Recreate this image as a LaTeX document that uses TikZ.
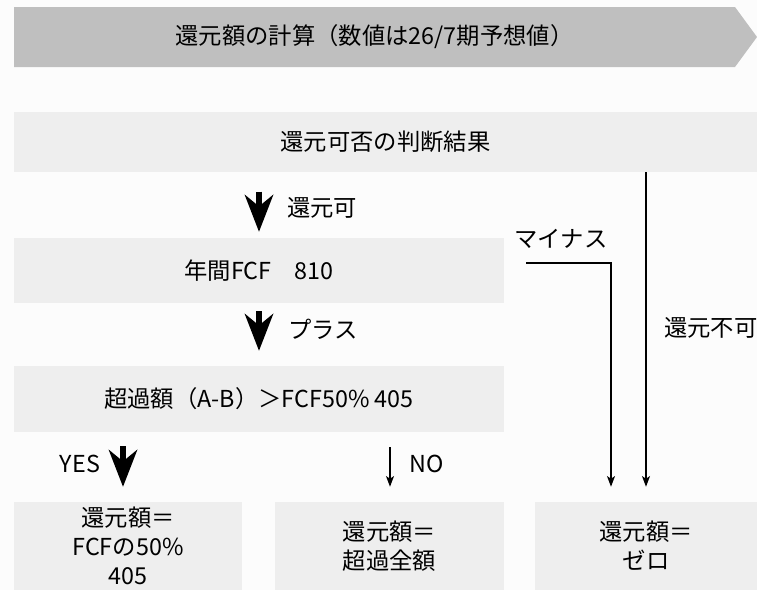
\documentclass[tikz,border=0pt]{standalone}
\usepackage{fontspec}
\setmainfont{Noto Sans CJK JP}
\usetikzlibrary{arrows.meta}
\definecolor{bannergray}{HTML}{BFBFBF}
\definecolor{boxgray}{HTML}{EEEEEE}
\definecolor{bggray}{HTML}{FCFCFC}
\begin{document}
\begin{tikzpicture}[x=0.75pt,y=-0.75pt,
  font=\fontsize{17.5}{21.75}\selectfont,
  box/.style={fill=boxgray, inner sep=0pt, align=center},
  lbl/.style={inner sep=0pt},
  bigarrow/.style={line width=4.5pt, -{Stealth[length=28pt,width=21.75pt,inset=9pt,line width=0pt]}},
  thinarrow/.style={line width=1pt, -{Stealth[length=8pt,width=6pt,inset=2pt]}}]
\useasboundingbox[fill=bggray] (0,0) rectangle (757,590);
% banner
\fill[bannergray] (14,7) -- (735,7) -- (757,37) -- (735,67) -- (14,67) -- cycle;
\node[lbl] (title) at (374.5,37) {還元額の計算（数値は26/7期予想値）};
% boxes
\node[box, minimum width=557.25pt, minimum height=45pt] (b0) at (385.5,142) {還元可否の判断結果};
\node[box, minimum width=367.5pt, minimum height=48.75pt] (b1) at (259,270.5) {年間FCF　810};
\node[box, minimum width=367.5pt, minimum height=49.5pt] (b2) at (259,399) {超過額（A-B）＞FCF50\% 405};
\node[box, minimum width=171pt, minimum height=66pt] (b3) at (128,546) {還元額＝\\FCFの50\%\\405};
\node[box, minimum width=171.75pt, minimum height=66pt] (b4) at (389.5,546) {還元額＝\\超過全額};
\node[box, minimum width=166.5pt, minimum height=66pt] (b5) at (646,546) {還元額＝\\ゼロ};
% helper x positions
\coordinate (ax) at (259,0);
\coordinate (yx) at (123,0);
\coordinate (nx) at (390,0);
\coordinate (rx) at (646,0);
\coordinate (lx) at (611,0);
\coordinate (m0) at (526,263);
% arrows
\draw[bigarrow, shorten <=14.5pt, shorten >=4.5pt] (b0.south -| ax) -- (b1.north -| ax);
\draw[bigarrow, shorten <=6pt, shorten >=11.25pt] (b1.south -| ax) -- (b2.north -| ax);
\draw[bigarrow, shorten <=10.5pt, shorten >=11.25pt] (b2.south -| yx) -- (b3.north -| yx);
\draw[thinarrow, shorten <=11.25pt, shorten >=11.25pt] (b2.south -| nx) -- (b4.north -| nx);
\draw[thinarrow, shorten >=11.25pt] (b0.south -| rx) -- (b5.north -| rx);
\draw[thinarrow, shorten >=11.25pt] (m0) -| (b5.north -| lx);
% labels
\node[lbl] (l1) at (322,208) {還元可};
\node[lbl] (l2) at (323,329) {プラス};
\node[lbl] (l3) at (80,464) {YES};
\node[lbl] (l4) at (427,464) {NO};
\node[lbl] (l5) at (561,239) {マイナス};
\node[lbl, anchor=west] (l6) at (664,328) {還元不可};
\end{tikzpicture}
\end{document}
